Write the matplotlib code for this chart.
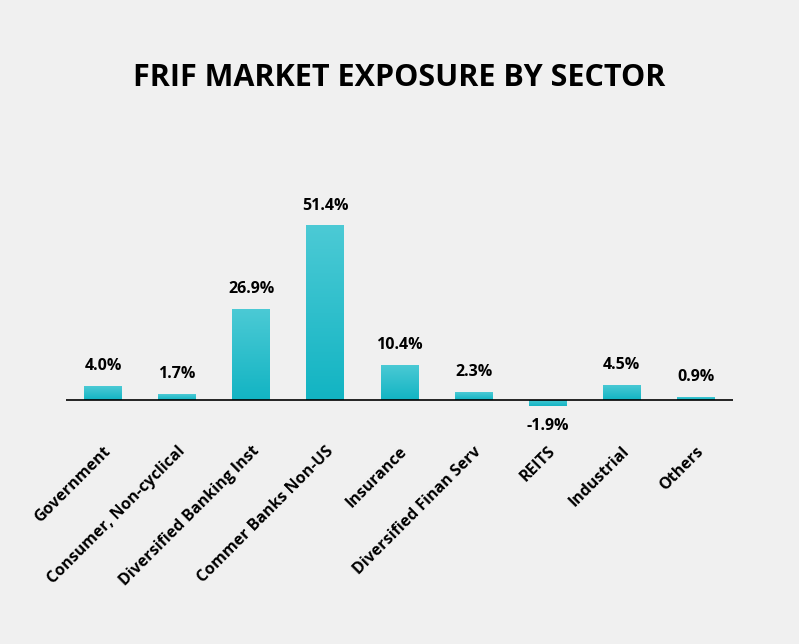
import matplotlib
matplotlib.use("Agg")
import matplotlib.pyplot as plt
import numpy as np
from matplotlib.colors import LinearSegmentedColormap

categories = ["Government", "Consumer, Non-cyclical", "Diversified Banking Inst",
              "Commer Banks Non-US", "Insurance", "Diversified Finan Serv",
              "REITS", "Industrial", "Others"]
values = [4.0, 1.7, 26.9, 51.4, 10.4, 2.3, -1.9, 4.5, 0.9]

bg = "#F0F0F0"
fig = plt.figure(figsize=(7.99, 6.44), dpi=100, facecolor=bg)
ax = fig.add_axes([0.0826, 0.3634, 0.8348, 0.3214], facecolor=bg)
font = "Open Sans"

cmap = LinearSegmentedColormap.from_list("g", ["#12B4C3", "#4CCAD5"])
x = np.arange(len(categories))
bars = ax.bar(x, values, width=0.51, color="none", edgecolor="none")
grad = np.linspace(0, 1, 256).reshape(-1, 1)
for b in bars:
    x0, w = b.get_x(), b.get_width()
    y0, h = b.get_y(), b.get_height()
    y1, y2 = min(y0, y0 + h), max(y0, y0 + h)
    im = ax.imshow(grad, cmap=cmap, aspect="auto", origin="lower",
                   extent=[x0, x0 + w, y1, y2], zorder=2)
    im.set_clip_path(b)
ax.set_xlim(-0.5, len(categories) - 0.5)
ax.set_ylim(-3, 58)

for xi, v in zip(x, values):
    if v >= 0:
        ax.text(xi, v + 3.5, f"{v:.1f}%", ha="center", va="bottom",
                fontsize=11.5, fontweight="bold", family=font)
    else:
        ax.text(xi, v - 3.5, f"{v:.1f}%", ha="center", va="top",
                fontsize=11.5, fontweight="bold", family=font)

ax.axhline(0, color="black", lw=1.2, zorder=3)
for s in ax.spines.values():
    s.set_visible(False)
ax.set_yticks([])
ax.set_xticks(x)
ax.set_xticklabels(categories, rotation=45, ha="right", rotation_mode="anchor",
                   fontsize=11.5, fontweight="bold", family=font)
ax.tick_params(axis="x", length=0, pad=24)

fig.text(0.5, 1 - 78 / 644, "FRIF MARKET EXPOSURE BY SECTOR", ha="center", va="center",
         fontsize=22, fontweight="bold", family=font)
fig.savefig("out.png", dpi=100, facecolor=bg)
